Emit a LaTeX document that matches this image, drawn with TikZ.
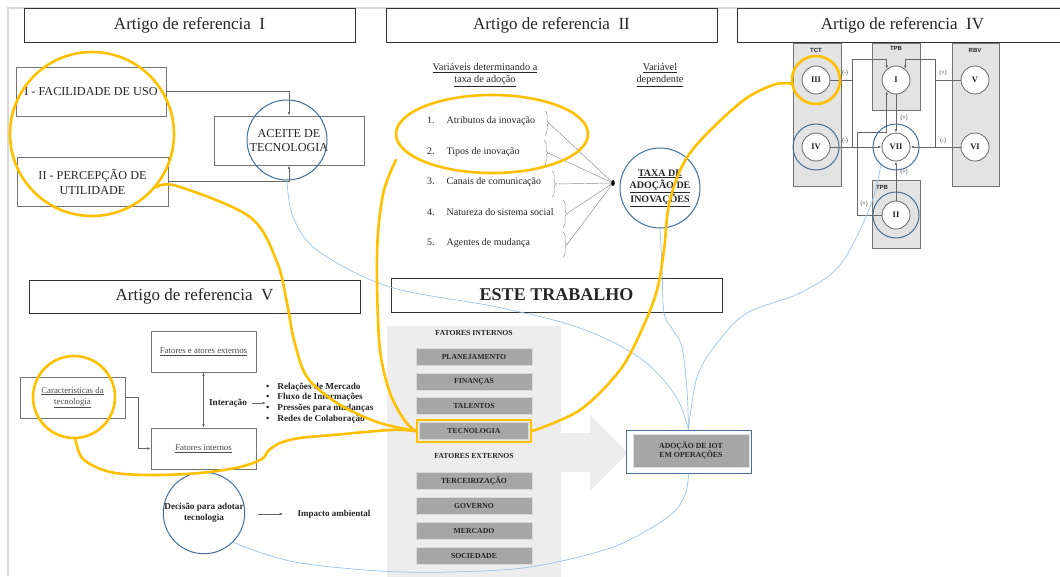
\documentclass[tikz,border=0pt]{standalone}
\usepackage{fontspec}
\setmainfont{Liberation Serif}
\setsansfont{Liberation Sans}
\usetikzlibrary{arrows.meta,decorations.pathreplacing,shapes.geometric}

\definecolor{hl}{HTML}{FFC000}
\definecolor{ringC}{HTML}{41719C}
\definecolor{linkC}{HTML}{9DC3E6}
\definecolor{barC}{HTML}{A6A6A6}
\definecolor{panelC}{HTML}{EDEDED}
\definecolor{frameC}{HTML}{D9D9D9}
\definecolor{theoryC}{HTML}{E3E3E3}
\definecolor{inkC}{HTML}{262626}

\newcommand{\fsz}[2]{\fontsize{#1pt}{#2pt}\selectfont}

\begin{document}
\begin{tikzpicture}[x=1pt,y=-1pt,
  titlebox/.style={draw=black!80, fill=white, line width=1pt, inner sep=0pt, font=\fsz{17}{19}, text=inkC},
  plainbox/.style={draw=black!55, fill=white, line width=0.8pt, inner sep=0pt, align=center, text=inkC},
  bluering/.style={circle, draw=ringC, line width=1pt, inner sep=0pt, minimum size=#1},
  hlring/.style={circle, draw=hl, line width=2.6pt, inner sep=0pt, minimum size=#1},
  hlpath/.style={draw=hl, line width=2.6pt, line cap=round},
  wire/.style={draw=black!60, line width=0.7pt},
  arr/.style={-{Latex[length=3.5pt,width=2.6pt]}},
  dblarr/.style={{Latex[length=3.5pt,width=2.6pt]}-{Latex[length=3.5pt,width=2.6pt]}},
  linkpath/.style={draw=linkC, line width=0.7pt},
  rn/.style={circle, draw=black!55, fill=white, line width=0.9pt, minimum size=28pt, inner sep=0pt, font=\fsz{8.5}{9}\bfseries, text=inkC},
  tpanel/.style={draw=black!55, fill=theoryC, line width=0.9pt, inner sep=0pt, anchor=north west},
  tlabel/.style={font=\sffamily\bfseries\fsz{6}{7}, text=black!85, inner sep=0pt},
  sgn/.style={font=\sffamily\fsz{6}{7}, text=black!70, inner sep=0pt},
  factorbar/.style={fill=barC, draw=black!15, line width=0.6pt, minimum width=116pt, minimum height=17pt, inner sep=0pt, font=\bfseries\fsz{7.7}{8}, text=inkC},
  grouphead/.style={font=\bfseries\fsz{7.7}{8}, text=inkC, inner sep=0pt},
  listitem/.style={anchor=west, font=\fsz{10}{12}, text=inkC, inner sep=0pt},
  curly/.style={decorate, decoration={brace, amplitude=4pt}, draw=black!40, line width=0.5pt},
  spoke/.style={draw=black!45, line width=0.45pt},
  smallbox/.style={draw=black!55, fill=white, line width=0.8pt, inner sep=0pt, align=center, text=black!70, font=\fsz{8.8}{11}, minimum width=105pt, minimum height=41pt}
]
\clip (0,0) rectangle (1060,576);
\fill[white] (0,0) rectangle (1060,576);
\draw[frameC, line width=1.2pt] (8,576) -- (8,8) -- (1060,8);

% ---------- section titles
\node[titlebox, minimum width=331pt, minimum height=34pt] (t1) at (189.5,25) {Artigo de referencia\enspace I};
\node[titlebox, minimum width=331pt, minimum height=34pt] (t2) at (551.5,25) {Artigo de referencia\enspace II};
\node[titlebox, minimum width=331pt, minimum height=34pt] (t4) at (902.5,25) {Artigo de referencia\enspace IV};
\node[titlebox, minimum width=331pt, minimum height=33pt] (t5) at (194.5,296.5) {Artigo de referencia\enspace V};
\node[titlebox, minimum width=331pt, minimum height=34pt, font=\bfseries\fsz{18}{20}] (t6) at (556.5,295) {ESTE TRABALHO};

% ---------- reference I : technology acceptance
\node[plainbox, minimum width=150pt, minimum height=49pt, font=\fsz{12.2}{15}] (fac) at (91,91.5) {I - FACILIDADE DE USO};
\node[plainbox, minimum width=151pt, minimum height=49pt, font=\fsz{12.2}{15}] (per) at (92.5,181.5) {II - PERCEPÇÃO DE\\UTILIDADE};
\node[plainbox, minimum width=150pt, minimum height=49pt, font=\fsz{12.2}{14.5}] (ace) at (289,140.5) {ACEITE DE\\TECNOLOGIA};
\node[bluering=80pt] (aceR) at (287,140) {};
\draw[wire, arr] (fac.east) -| (ace.north);
\draw[wire, arr] (per.east) -| (ace.south);

% ---------- reference II : diffusion of innovations
\node[font=\fsz{10.3}{11.5}, text=inkC, align=center] (hd1) at (485,75) {\underline{Variáveis determinando a}\\\underline{taxa de adoção}};
\node[font=\fsz{10.3}{11.5}, text=inkC, align=center] (hd2) at (660,75) {\underline{Variável}\\\underline{dependente}};
\node[listitem] (it1) at (427,121) {\makebox[19.5pt][l]{1.}Atributos da inovação};
\node[listitem] (it2) at (427,152) {\makebox[19.5pt][l]{2.}Tipos de inovação};
\node[listitem] (it3) at (427,182) {\makebox[19.5pt][l]{3.}Canais de comunicação};
\node[listitem] (it4) at (427,212) {\makebox[19.5pt][l]{4.}Natureza do sistema social};
\node[listitem] (it5) at (427,243) {\makebox[19.5pt][l]{5.}Agentes de mudança};
\draw[curly] (545,111) -- (545,135);
\draw[curly] (544,140) -- (544,166);
\draw[curly] (552,171) -- (552,197);
\draw[curly] (563,200) -- (563,227);
\draw[curly] (563,232) -- (563,257);
\coordinate (hub) at (613,183);
\coordinate (bt1) at (549,123);
\coordinate (bt2) at (548,153);
\coordinate (bt3) at (556,184);
\coordinate (bt4) at (567,213.5);
\coordinate (bt5) at (567,244.5);
\foreach \b in {bt1,bt2,bt3,bt4,bt5} \draw[spoke] (\b) -- (hub);
\fill[black] (hub) ellipse (1.8pt and 3pt);
\node[bluering=80pt, font=\bfseries\fsz{10}{12.5}, align=center, text=inkC] (taxa) at (660,188) {\underline{TAXA DE}\\\underline{ADOÇÃO DE}\\\underline{INOVAÇÕES}};

% ---------- reference IV : theory panels
\node[tpanel, minimum width=48pt, minimum height=143pt] (pTCT) at (793,43) {};
\node[tpanel, minimum width=48pt, minimum height=67pt] (pTPB) at (872,43) {};
\node[tpanel, minimum width=47pt, minimum height=143pt] (pRBV) at (952,43) {};
\node[tpanel, minimum width=48pt, minimum height=68pt] (pTPB2) at (872,180) {};
\node[tlabel] (lTCT) at (816,50) {TCT};
\node[tlabel] (lTPB) at (896,48) {TPB};
\node[tlabel] (lRBV) at (975,50) {RBV};
\node[tlabel] (lTPB2) at (882,187) {TPB};

\node[rn] (III) at (816,80) {III};
\node[rn] (I) at (896,80) {I};
\node[rn] (V) at (975,80) {V};
\node[rn] (IV) at (816,147) {IV};
\node[rn] (VII) at (896,147) {VII};
\node[rn] (VI) at (975,147) {VI};
\node[rn] (II) at (896,215) {II};

\coordinate (jTL) at (852,59);
\coordinate (jBL) at (852,147);
\coordinate (jTR) at (935,59);
\coordinate (jBR) at (935,147);
\coordinate (jII) at (857,132);
\draw[wire] (III.east) -- (III.east -| jTL);
\draw[wire, arr] (jBL) -- (jTL) -| (I.130);
\draw[wire] (V.west) -- (V.west -| jTR);
\draw[wire, arr] (jBR) -- (jTR) -| (I.50);
\draw[wire, arr] (IV.east) -- (VII.west);
\draw[wire, arr] (VI.west) -- (VII.east);
\draw[wire, arr] (I.south) -- (VII.north);
\draw[wire, arr] (II.north) -- (VII.south);
\draw[wire, arr] (II.west) -| (jII) -| (I.230);

\node[sgn] at (845,73) {(-)};
\node[sgn] at (845,141) {(-)};
\node[sgn] at (943,73) {(+)};
\node[sgn] at (943,141) {(-)};
\node[sgn] at (904,118) {(+)};
\node[sgn] at (904,172) {(+)};
\node[sgn] at (864,204) {(+)};

\node[bluering=46pt] (IVr) at (816,147) {};
\node[bluering=46pt] (VIIr) at (896,147) {};
\node[bluering=46pt] (IIr) at (896,215) {};

% ---------- reference V : adoption decision
\node[smallbox] (ext) at (203.5,351.5) {\underline{Fatores e atores externos}};
\node[smallbox] (car) at (72.5,397.5) {\underline{Características da}\\\underline{tecnologia}};
\node[smallbox] (int) at (203.5,448.5) {\underline{Fatores internos}};
\draw[wire, dblarr, line width=0.6pt] (ext.south) -- (int.north);
\draw[wire, arr, line width=0.6pt] (car.east) -- ++(13,0) |- (int.west);
\node[font=\bfseries\fsz{9.2}{10}, text=inkC, inner sep=1pt] (inter) at (228,403) {Interação};
\node[anchor=west, align=left, font=\bfseries\fsz{9.2}{10.7}, text=inkC, inner sep=0pt] (bul) at (266,403)
  {\textbullet\hspace{8pt}Relações de Mercado\\\textbullet\hspace{8pt}Fluxo de Informações\\\textbullet\hspace{8pt}Pressões para mudanças\\\textbullet\hspace{8pt}Redes de Colaboração};
\draw[wire, arr, line width=0.6pt] (inter.east) ++(4,0) -- (bul.west);
\node[bluering=80pt, font=\bfseries\fsz{9.2}{11}, align=center, text=inkC] (dec) at (204,513) {Decisão para adotar\\tecnologia};
\node[font=\bfseries\fsz{9}{10}, text=inkC, inner sep=0pt] (imp) at (334,514) {Impacto ambiental};
\draw[wire, arr, line width=0.6pt] (dec.east) ++(13,1) -- ++(25,0);

% ---------- this work
\node[fill=panelC, anchor=north west, minimum width=174pt, minimum height=254pt, inner sep=0pt] (pnl) at (387,326) {};
\fill[panelC] (561,433) -- (590,433) -- (590,415) -- (628,453) -- (590,491) -- (590,472) -- (561,472) -- cycle;
\node[grouphead] (gIn) at (474,333) {FATORES INTERNOS};
\node[factorbar] (f1) at (474,357) {PLANEJAMENTO};
\node[factorbar] (f2) at (474,382) {FINANÇAS};
\node[factorbar] (f3) at (474,406) {TALENTOS};
\node[draw=hl, line width=2.6pt, minimum width=114pt, minimum height=22pt, inner sep=0pt] (tecF) at (474,431) {};
\node[factorbar, minimum width=109pt] (f4) at (474,431) {TECNOLOGIA};
\node[grouphead] (gEx) at (474,456) {FATORES EXTERNOS};
\node[factorbar] (f5) at (474,481) {TERCEIRIZAÇÃO};
\node[factorbar] (f6) at (474,506) {GOVERNO};
\node[factorbar] (f7) at (474,531) {MERCADO};
\node[factorbar] (f8) at (474,556) {SOCIEDADE};

\node[draw=ringC, line width=1pt, fill=white, minimum width=125pt, minimum height=43pt, inner sep=0pt] (iot) at (688.5,451.5) {};
\node[fill=barC, draw=black!12, line width=0.6pt, minimum width=116pt, minimum height=33pt, inner sep=0pt, font=\bfseries\fsz{7.8}{9.5}, align=center, text=inkC] (iotT) at (691,450.5) {ADOÇÃO DE IOT\\EM OPERAÇÕES};

% ---------- links into the adoption box
\draw[linkpath] plot[smooth, tension=0.55] coordinates {(aceR.south) (293,217) (318,251) (390,287) (497,307) (580,328) (640,358) (675,395) (iot.north)};
\draw[linkpath] plot[smooth, tension=0.55] coordinates {(taxa.south) (662,267) (664,313) (673,330) (682,347) (687,390) (iot.north)};
\draw[linkpath] plot[smooth, tension=0.55] coordinates {(VIIr.230) (870,207) (840,265) (800,293) (747,313) (717,343) (697,377) (iot.north)};
\draw[linkpath] plot[smooth, tension=0.55] coordinates {(iot.south) (685,495) (668,517) (613,547) (530,567) (450,572) (380,571) (300,563) (253,550) (dec.-45)};

% ---------- highlight rings and links
\node[hlring=164pt] (hI) at (92,134) {};
\node[ellipse, draw=hl, line width=2.6pt, minimum width=192pt, minimum height=78pt, inner sep=0pt] (hII) at (492,134) {};
\node[hlring=48pt] (hIII) at (816,80) {};
\node[hlring=82pt] (hV) at (74,397) {};
\coordinate (hBtop) at (396,160);

\draw[hlpath] plot[smooth, tension=0.55] coordinates {(hI.-40) (177,186) (250,217) (277,262) (287,303) (294,340) (307,377) (337,403) (377,422) (tecF.west)};
\draw[hlpath] plot[smooth, tension=0.55] coordinates {(hBtop) (384,190) (378,233) (377,283) (380,350) (390,393) (405,421) (tecF.west)};
\draw[hlpath] plot[smooth, tension=0.55] coordinates {(hV.-88) (83,459) (110,472) (150,475) (200,473) (240,467) (262,459) (268,451) (280,443) (300,438) (333,435) (390,430) (tecF.west)};
\draw[hlpath] plot[smooth, tension=0.55] coordinates {(tecF.east) (580,410) (620,370) (643,327) (657,290) (664,250) (670,200) (690,153) (740,103) (773,85) (hIII.188)};
\end{tikzpicture}
\end{document}
